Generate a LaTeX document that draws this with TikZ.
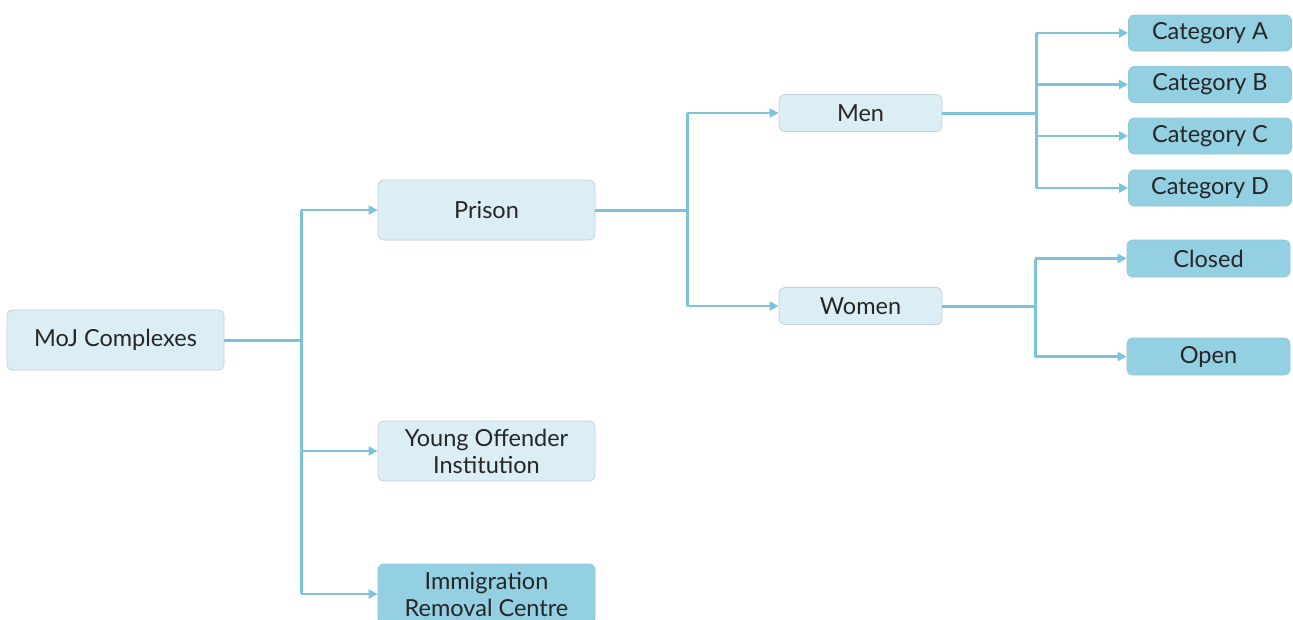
\documentclass[tikz,border=0pt]{standalone}
\usepackage{fontspec}
\setmainfont{Lato}
\usetikzlibrary{arrows.meta}
\definecolor{lightbox}{HTML}{DCEEF5}
\definecolor{darkbox}{HTML}{92D0E2}
\definecolor{boxline}{HTML}{C4D0D6}
\definecolor{conn}{HTML}{7EC3DC}
\tikzset{
  base/.style={rounded corners=6pt, draw=boxline, line width=0.8pt, align=center, inner sep=0pt, text=black!85, font=\fontsize{23.5}{27}\selectfont},
  light/.style={base, fill=lightbox},
  dark/.style={base, fill=darkbox, draw=darkbox!90!gray},
  big/.style={minimum width=217pt, minimum height=60pt},
  mid/.style={minimum width=163pt, minimum height=37pt},
  conline/.style={draw=conn, line width=3pt},
  arr/.style={draw=conn, line width=2.6pt, -{Triangle[length=9pt,width=9pt]}},
}
\begin{document}
\begin{tikzpicture}[x=1pt,y=-1pt]
\useasboundingbox (0,0) rectangle (1293,619);
\node[light,big] (moj) at (115.5,340) {MoJ Complexes};
\node[light,big] (prison) at (486.5,210) {Prison};
\node[light,big] (yoi) at (486.5,451) {Young Offender\\Institution};
\node[dark,big] (irc) at (486.5,594) {Immigration\\Removal Centre};
\node[light,mid] (men) at (860.5,113) {Men};
\node[light,mid] (women) at (860.5,306) {Women};
\node[dark,mid,minimum height=36pt] (ca) at (1210,33) {Category A};
\node[dark,mid,minimum height=36pt] (cb) at (1210,84.5) {Category B};
\node[dark,mid,minimum height=36pt] (cc) at (1210,136) {Category C};
\node[dark,mid,minimum height=36pt] (cd) at (1210,188) {Category D};
\node[dark,mid] (closed) at (1208.5,258.5) {Closed};
\node[dark,mid] (open) at (1208.5,356.5) {Open};
% trunk coordinates
\coordinate (t1) at (301,340);
\coordinate (t2) at (687,210);
\coordinate (t3) at (1036,113);
\coordinate (t4) at (1035,306);
% main level
\draw[conline] (moj.east) -- (t1);
\draw[conline] (301,210) -- (301,594);
\draw[arr] (301,210) -- (prison.west);
\draw[arr] (301,451) -- (yoi.west);
\draw[arr] (301,594) -- (irc.west);
% prison level
\draw[conline] (prison.east) -- (t2);
\draw[conline] (687,113) -- (687,306);
\draw[arr] (687,113) -- (men.west);
\draw[arr] (687,306) -- (women.west);
% men level
\draw[conline] (men.east) -- (t3);
\draw[conline] (1036,33) -- (1036,188);
\draw[arr] (1036,33) -- (ca.west);
\draw[arr] (1036,84.5) -- (cb.west);
\draw[arr] (1036,136) -- (cc.west);
\draw[arr] (1036,188) -- (cd.west);
% women level
\draw[conline] (women.east) -- (t4);
\draw[conline] (1035,258.5) -- (1035,356.5);
\draw[arr] (1035,258.5) -- (closed.west);
\draw[arr] (1035,356.5) -- (open.west);
\end{tikzpicture}
\end{document}
